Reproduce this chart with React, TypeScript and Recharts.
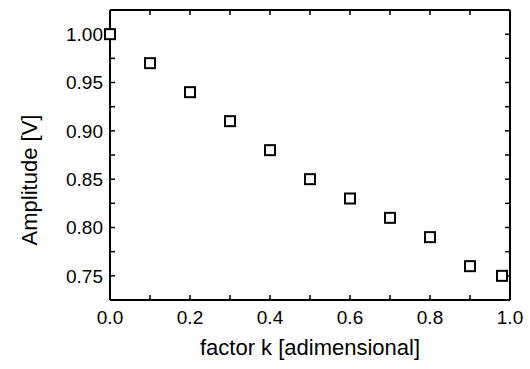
import { ScatterChart, Scatter, XAxis, YAxis, Label } from 'recharts';

const factorK = [0.0, 0.1, 0.2, 0.3, 0.4, 0.5, 0.6, 0.7, 0.8, 0.9, 0.98];
const amplitude = [1.0, 0.97, 0.94, 0.91, 0.88, 0.85, 0.83, 0.81, 0.79, 0.76, 0.75];

const xTicks = [0, 0.1, 0.2, 0.3, 0.4, 0.5, 0.6, 0.7, 0.8, 0.9, 1.0];
const xTickLabels = ['0.0', '0.2', '0.4', '0.6', '0.8', '1.0'];
const yTicks = [0.75, 0.775, 0.8, 0.825, 0.85, 0.875, 0.9, 0.925, 0.95, 0.975, 1.0];
const yTickLabels = ['0.75', '0.80', '0.85', '0.90', '0.95', '1.00'];

const data = factorK.map((k, i) => ({ k, amp: amplitude[i] }));

const FONT = '"Liberation Sans", Arial, Helvetica, sans-serif';

// hollow square marker
function SquareMark(props: any) {
  const { cx, cy } = props;
  if (cx == null || cy == null) return null;
  return <rect x={cx - 5} y={cy - 5} width={10} height={10} fill="#fff" stroke="#000" strokeWidth={2} />;
}

const fmtX = (v: number) => {
  const s = v.toFixed(1);
  return xTickLabels.includes(s) ? s : '';
};
const fmtY = (v: number) => {
  const s = v.toFixed(2);
  return yTickLabels.includes(s) ? s : '';
};
const noLabel = () => '';

export default function App() {
  const axisLine = { stroke: '#000', strokeWidth: 2 };
  const tickLine = { stroke: '#000', strokeWidth: 1.5 };
  const tick = { fill: '#000', fontSize: 19, fontFamily: FONT };

  return (
    <div style={{ position: 'absolute', left: 0, top: 0, background: '#fff' }}>
      <ScatterChart width={530} height={369} margin={{ top: 9, right: 19, bottom: 19, left: 50 }} style={{ fontFamily: FONT }}>
        <XAxis
          xAxisId="bottom"
          dataKey="k"
          type="number"
          domain={[0, 1]}
          ticks={xTicks}
          tickFormatter={fmtX}
          interval={0}
          height={50}
          axisLine={axisLine}
          tickLine={tickLine}
          tickSize={-5}
          tickMargin={16}
          tick={tick}
        >
          <Label
            content={() => (
              <text x={310} y={355} textAnchor="middle" fontSize={22} fontFamily={FONT} fill="#000">
                factor k [adimensional]
              </text>
            )}
          />
        </XAxis>
        <XAxis
          xAxisId="top"
          orientation="top"
          dataKey="k"
          type="number"
          domain={[0, 1]}
          ticks={xTicks}
          tickFormatter={noLabel}
          interval={0}
          height={1}
          axisLine={axisLine}
          tickLine={tickLine}
          tickSize={-5}
          tick={tick}
        />
        <YAxis
          yAxisId="left"
          dataKey="amp"
          type="number"
          domain={[0.725, 1.025]}
          ticks={yTicks}
          tickFormatter={fmtY}
          interval={0}
          width={60}
          axisLine={axisLine}
          tickLine={tickLine}
          tickSize={-5}
          tickMargin={12}
          tick={tick}
        >
          <Label
            content={() => (
              <text
                x={29}
                y={180}
                transform="rotate(-90, 29, 180)"
                textAnchor="middle"
                dominantBaseline="central"
                fontSize={22}
                fontFamily={FONT}
                fill="#000"
              >
                Amplitude [V]
              </text>
            )}
          />
        </YAxis>
        <YAxis
          yAxisId="right"
          orientation="right"
          dataKey="amp"
          type="number"
          domain={[0.725, 1.025]}
          ticks={yTicks}
          tickFormatter={noLabel}
          interval={0}
          width={1}
          axisLine={axisLine}
          tickLine={tickLine}
          tickSize={-5}
          tick={tick}
        />
        <Scatter
          data={data}
          xAxisId="bottom"
          yAxisId="left"
          shape={SquareMark}
          isAnimationActive={false}
        />
        <Scatter
          data={data}
          xAxisId="top"
          yAxisId="right"
          shape={() => null}
          isAnimationActive={false}
        />
      </ScatterChart>
    </div>
  );
}
